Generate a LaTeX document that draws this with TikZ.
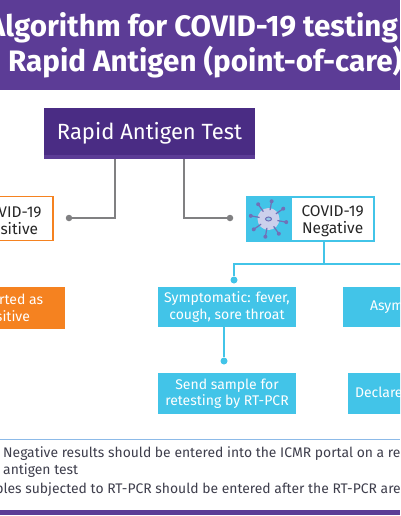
\documentclass[tikz,border=0pt]{standalone}
\usepackage{fontspec}
\setmainfont{Fira Sans}
\usetikzlibrary{positioning,calc}
\definecolor{headpurple}{RGB}{92,60,150}
\definecolor{boxpurple}{RGB}{74,44,132}
\definecolor{skyblue}{RGB}{66,196,232}
\definecolor{fillorange}{RGB}{245,130,32}
\definecolor{linegrey}{RGB}{128,128,130}
\definecolor{notegrey}{RGB}{62,62,76}
\definecolor{ruleblue}{RGB}{140,186,232}
\definecolor{virusbody}{RGB}{204,208,236}
\definecolor{virusspike}{RGB}{112,112,184}
\newcommand{\lowstrut}{\rule{0pt}{15pt}}
\tikzset{
    bluebox/.style={fill=skyblue, text=white, font=\fontsize{14}{16.5}\selectfont, align=center, minimum height=40pt, inner sep=0pt},
    resultbox/.style={draw=#1, line width=1.8pt, fill=white, text=black!85, font=\fontsize{15.5}{17.5}\selectfont, align=center, minimum height=44pt, inner sep=0pt},
    greyline/.style={draw=linegrey, line width=1.3pt},
    blueline/.style={draw=skyblue, line width=1.3pt},
    greydot/.style={circle, fill=linegrey, minimum size=6.5pt, inner sep=0pt},
    bluedot/.style={circle, fill=skyblue, minimum size=7pt, inner sep=0pt},
    titleline/.style={text=white, font=\fontsize{29.6}{32}\selectfont\bfseries, inner sep=0pt},
    noteline/.style={text=notegrey, font=\fontsize{13.9}{16}\selectfont, inner sep=0pt}
}

\begin{document}
\begin{tikzpicture}[x=1pt, y=-1pt]
        \useasboundingbox (0,0) rectangle (400,516);
        \clip (0,0) rectangle (400,516);
        % header
        \fill[headpurple] (0,0) rectangle (400,90);
        \node[titleline, anchor=east] (titleone) at (398,28) {Algorithm for COVID-19 testing};
        \node[titleline, anchor=west] (titletwo) at (8,62) {Rapid Antigen (point-of-care)};
        % test box
        \node[fill=boxpurple, text=white, minimum width=211pt, minimum height=51pt, inner sep=0pt, font=\fontsize{22}{26}\selectfont] (rapid) at (149.5,133.5) {Rapid Antigen Test};
        \fill[headpurple] (rapid.south west) rectangle ($(rapid.south east)+(0,-4)$);
        % results
        \node[resultbox=fillorange, minimum width=85pt] (posbox) at (10.5,218.5) {\lowstrut COVID-19\\Positive};
        \node[fill=skyblue, minimum width=43pt, minimum height=44pt, inner sep=0pt] (negicon) at (268.5,219) {};
        \node[resultbox=skyblue, minimum width=83pt, right=0pt of negicon] (negbox) {\lowstrut COVID-19\\Negative};
        \draw[draw=skyblue, line width=1.5pt] (negicon.north west) rectangle (negicon.south east);
        \fill[virusbody] (negicon.center) circle (11);
        \foreach \ang in {10,55,100,145,190,235,280,325} {
            \draw[virusspike, line width=1.2pt] (negicon.center) ++(\ang:9) -- ++(\ang:8);
            \fill[virusspike] (negicon.center) ++(\ang:18) circle (2);
        }
        \draw[virusspike, line width=1pt, fill=virusbody!60!skyblue] (negicon.center) ellipse (3 and 2);
        % outcomes
        \node[fill=fillorange, text=white, font=\fontsize{14}{16.5}\selectfont, align=center, minimum width=120pt, minimum height=42pt, inner sep=0pt] (posreport) at (5,308) {Reported as\\Positive};
        \node[bluebox, minimum width=138pt] (symptom) at (227,307) {Symptomatic: fever,\\cough, sore throat};
        \node[bluebox, minimum width=138pt, minimum height=41pt] (retest) at (227,393.5) {Send sample for\\retesting by RT-PCR};
        \node[bluebox, minimum width=144pt] (asym) at (415,307) {Asymptomatic};
        \node[bluebox, minimum width=144pt, minimum height=41pt, text width=130pt, align=left] (declare) at (420,393.5) {Declare negative};
        % connectors
        \node[greydot] (posdot) at (69,218) {};
        \node[greydot] (negdot) at (230,218) {};
        \coordinate (posdrop) at (115,159);
        \coordinate (negdrop) at (184,159);
        \draw[greyline] (posdrop) |- (posdot);
        \draw[greyline] (negdrop) |- (negdot);
        \node[bluedot] (symdot) at (234,280) {};
        \node[bluedot] (retestdot) at (224,361) {};
        \coordinate (negdrop2) at (324,241);
        \coordinate (split) at (324,264);
        \coordinate (asymend) at (410,264);
        \draw[blueline] (negdrop2) -- (split);
        \draw[blueline] (symdot) |- (asymend);
        \draw[blueline] (retestdot) -- (retestdot |- symptom.south);
        % notes
        \draw[ruleblue, line width=1pt] (0,439) -- (400,439);
        \node[noteline, anchor=base west] (noteone) at (3,457.5) {Negative results should be entered into the ICMR portal on a re};
        \node[noteline, anchor=base west] (notetwo) at (3,474.5) {antigen test};
        \node[noteline, anchor=base east] (notethree) at (401,493.5) {Samples subjected to RT-PCR should be entered after the RT-PCR are};
        \fill[headpurple] (0,510) rectangle (400,515);
    \end{tikzpicture}
\end{document}
